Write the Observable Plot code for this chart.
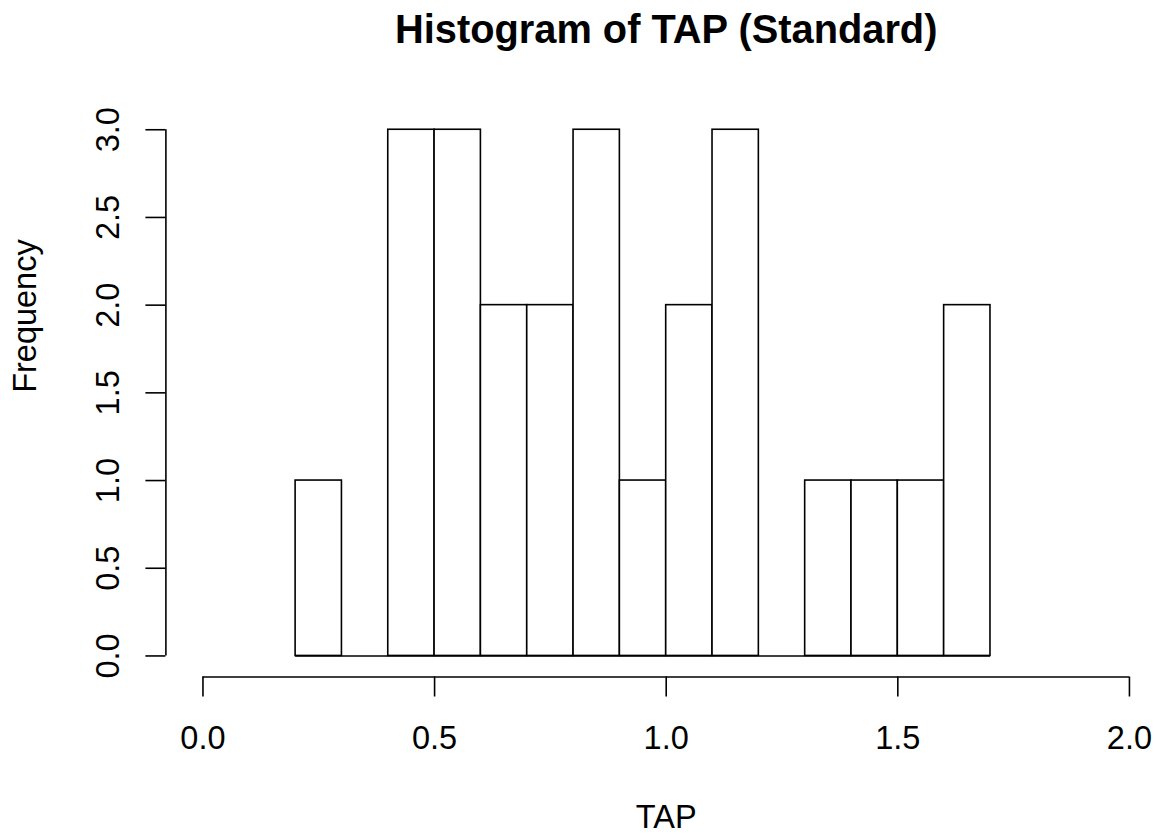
<!DOCTYPE html>
<html>
<head>
<meta charset="utf-8">
<script src="https://cdn.jsdelivr.net/npm/d3@7"></script>
<script src="https://cdn.jsdelivr.net/npm/@observablehq/plot@0.6"></script>
<style>
  html, body { margin: 0; padding: 0; background: #ffffff; }
  #chart svg { display: block; }
</style>
</head>
<body>
<div id="chart"></div>
<script>
// ---- data ----
const binEdges = [0.2, 0.3, 0.4, 0.5, 0.6, 0.7, 0.8, 0.9, 1.0, 1.1, 1.2, 1.3, 1.4, 1.5, 1.6, 1.7];
const counts   = [1, 0, 3, 3, 2, 2, 3, 1, 2, 3, 0, 1, 1, 1, 2];
const xTicks = [0, 0.5, 1.0, 1.5, 2.0];
const yTicks = [0, 0.5, 1.0, 1.5, 2.0, 2.5, 3.0];
const titleText = "Histogram of TAP (Standard)";
const xLabel = "TAP";
const yLabel = "Frequency";

// table for the rect mark
const bins = counts.map((c, i) => ({x1: binEdges[i], x2: binEdges[i + 1], count: c}));

// R-style axis extension (4%) around the limits
const xLo = xTicks[0], xHi = xTicks[xTicks.length - 1];
const yLo = yTicks[0], yHi = yTicks[yTicks.length - 1];
const xPad = 0.04 * (xHi - xLo), yPad = 0.04 * (yHi - yLo);

const fmt = d3.format(".1f");
const font = "'Liberation Sans', Arial, Helvetica, sans-serif";
const lw = 1.6;

const chart = Plot.plot({
  width: 1158,
  height: 838,
  marginLeft: 165.4,
  marginRight: 0,
  marginTop: 108.2,
  marginBottom: 161.5,
  x: {domain: [xLo - xPad, xHi + xPad], range: [165.4, 1166]},
  y: {domain: [yLo - yPad, yHi + yPad]},
  style: {fontFamily: font, fontSize: "32.5px", background: "#ffffff", color: "#000000", overflow: "visible"},
  marks: [
    Plot.rectY(bins, {x1: "x1", x2: "x2", y1: 0, y2: "count", fill: "white", stroke: "black", strokeWidth: lw, inset: 0}),
    Plot.ruleY([0], {x1: binEdges[0], x2: binEdges[binEdges.length - 1], stroke: "black", strokeWidth: lw}),
    // axis lines
    Plot.ruleY([yLo - yPad], {x1: xLo, x2: xHi, stroke: "black", strokeWidth: lw}),
    Plot.ruleX([xLo - xPad], {y1: yLo, y2: yHi, stroke: "black", strokeWidth: lw}),
    Plot.axisX({ticks: xTicks, tickSize: 20, tickPadding: 28.5, tickFormat: fmt, label: null, strokeWidth: lw, fill: "black"}),
    Plot.axisY({ticks: yTicks, tickSize: 20, fill: "none", label: null, strokeWidth: lw}),
    Plot.text(yTicks, {y: d => d, frameAnchor: "left", text: d => fmt(d), rotate: -90, dx: -57.8, textAnchor: "middle", lineAnchor: "middle", fill: "black"}),
    Plot.text([yLabel], {frameAnchor: "left", text: d => d, rotate: -90, dx: -140.8, lineAnchor: "middle", fill: "black"}),
    Plot.text([xLabel], {frameAnchor: "bottom", text: d => d, dx: 4, dy: 141, lineAnchor: "middle", fill: "black"}),
    Plot.text([titleText], {frameAnchor: "top", text: d => d, dx: 4, dy: -78.9, lineAnchor: "middle", fontWeight: "bold", fontSize: 39.8, fill: "black"})
  ]
});
document.getElementById("chart").appendChild(chart);
</script>
</body>
</html>
